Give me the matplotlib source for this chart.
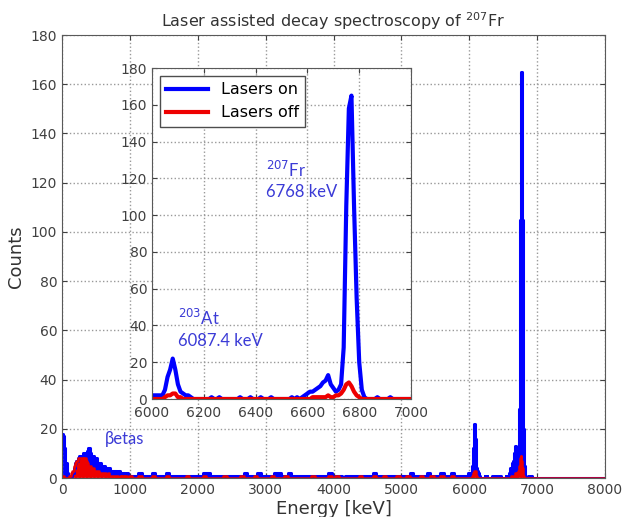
import numpy as np
import matplotlib.pyplot as plt

# energy grid (keV): finer bins where the peaks are
energy_low = np.arange(0, 1000, 20)
energy_mid = np.arange(1000, 5900, 50)
energy_high = np.arange(5900, 7000, 10)
energy_tail = np.arange(7000, 8001, 100)

on_low = [18, 17, 12, 6, 2, 0, 0, 1, 2, 4, 6, 7, 8, 9, 9, 9, 10, 9, 10, 11,
          12, 10, 9, 9, 8, 8, 6, 6, 6, 5, 5, 5, 4, 4, 4, 4, 3, 3, 3, 3,
          3, 2, 3, 2, 2, 2, 2, 1, 2, 1]
off_low = [1, 1, 0, 0, 0, 0, 1, 2, 3, 5, 6, 7, 8, 8, 8, 8, 7, 8, 7, 6,
           5, 5, 4, 4, 3, 3, 3, 3, 2, 2, 2, 2, 2, 1, 2, 1, 1, 1, 1, 1,
           1, 1, 0, 1, 0, 1, 0, 1, 0, 0]

on_mid = [1, 1, 1, 2, 1, 1, 1, 2, 1, 1,
          1, 2, 1, 1, 1, 1, 1, 1, 1, 1,
          1, 1, 2, 2, 1, 1, 1, 1, 1, 1,
          1, 1, 1, 1, 2, 1, 1, 1, 2, 1,
          1, 1, 1, 2, 2, 1, 1, 2, 1, 1,
          1, 1, 1, 1, 1, 1, 1, 1, 1, 2,
          1, 1, 1, 0, 1, 1, 1, 1, 1, 1,
          1, 1, 2, 1, 1, 1, 1, 1, 1, 1,
          1, 1, 1, 2, 1, 1, 1, 1, 2, 1,
          1, 1, 2, 1, 1, 2, 1, 1]
off_mid = [1, 0, 0, 1, 0, 0, 0, 1, 0, 0,
           0, 1, 0, 0, 0, 0, 0, 1, 0, 0,
           0, 0, 1, 0, 0, 0, 0, 0, 1, 0,
           0, 0, 0, 1, 0, 0, 0, 1, 0, 0,
           0, 0, 1, 0, 0, 0, 1, 0, 0, 0,
           0, 0, 0, 0, 1, 0, 0, 0, 0, 1,
           0, 1, 0, 0, 0, 0, 0, 0, 1, 0,
           0, 0, 1, 0, 0, 1, 0, 0, 0, 1,
           0, 0, 1, 0, 0, 0, 1, 0, 0, 1,
           0, 0, 1, 0, 0, 1, 0, 0]

on_high = [1, 1, 0, 1, 1, 0, 1, 1, 2, 2,
           2, 2, 2, 2, 2, 5, 12, 16, 22, 16,
           8, 4, 3, 2, 2, 1, 0, 0, 0, 0,
           0, 0, 0, 1, 0, 0, 1, 0, 0, 0,
           0, 0, 0, 0, 1, 0, 0, 0, 1, 0,
           0, 0, 1, 0, 0, 0, 1, 0, 0, 0,
           0, 0, 0, 0, 1, 0, 1, 0, 1, 2,
           3, 4, 4, 5, 6, 7, 9, 10, 13, 8,
           6, 4, 5, 8, 28, 105, 158, 165, 105, 55,
           20, 5, 1, 0, 0, 0, 0, 1, 0, 0,
           0, 0, 1, 0, 0, 0, 0, 0, 0, 0]
off_high = [0, 0, 0, 0, 0, 0, 0, 0, 0, 0,
            0, 0, 0, 0, 0, 1, 2, 2, 3, 3,
            1, 1, 0, 0, 0, 0, 0, 0, 0, 0,
            0, 0, 0, 0, 0, 0, 0, 0, 0, 0,
            0, 0, 0, 0, 0, 0, 0, 0, 0, 0,
            0, 0, 0, 0, 0, 0, 0, 0, 0, 0,
            0, 0, 0, 0, 0, 0, 0, 0, 0, 0,
            0, 0, 1, 1, 1, 1, 1, 1, 2, 1,
            1, 2, 2, 3, 5, 8, 9, 7, 4, 2,
            1, 0, 0, 0, 0, 0, 0, 0, 0, 0,
            0, 0, 0, 0, 0, 0, 0, 0, 0, 0]

on_tail = [0] * 11
off_tail = [0] * 11

energy = np.concatenate([energy_low, energy_mid, energy_high, energy_tail])
counts_on = np.concatenate([on_low, on_mid, on_high, on_tail])
counts_off = np.concatenate([off_low, off_mid, off_high, off_tail])

blue = '#0000ff'
red = '#ee0000'
label_color = '#3b3bd6'

fig = plt.figure(figsize=(6.24, 5.17), dpi=100)
ax = fig.add_axes([0.0994, 0.0754, 0.8702, 0.8569])

ax.fill_between(energy, counts_on, color=blue, lw=0, step='mid')
ax.plot(energy, counts_on, color=blue, lw=2.2, drawstyle='steps-mid')
ax.fill_between(energy, counts_off, color=red, lw=0, step='mid')
ax.plot(energy, counts_off, color=red, lw=1.8, drawstyle='steps-mid')
ax.set_xlim(0, 8000)
ax.set_ylim(0, 180)
ax.set_xticks(np.arange(0, 8001, 1000))
ax.set_yticks(np.arange(0, 181, 20))
ax.grid(True, linestyle=':', color='0.6', lw=1)
ax.tick_params(direction='in', top=True, right=True, labelsize=10, colors='0.25')
ax.set_xlabel('Energy [keV]', fontsize=13, color='0.2', labelpad=2)
ax.set_ylabel('Counts', fontsize=13, color='0.2', labelpad=4)
ax.set_title('Laser assisted decay spectroscopy of $^{207}$Fr', fontsize=11.5, color='0.2', pad=6)
for s in ax.spines.values():
    s.set_color('0.35')
ax.text(630, 14, 'βetas', color=label_color, fontsize=12, family='Lato')

# inset
axin = fig.add_axes([0.2436, 0.2282, 0.4151, 0.6402])
axin.plot(energy, counts_on, color=blue, lw=3, label='Lasers on')
axin.plot(energy, counts_off, color=red, lw=3, label='Lasers off')
axin.set_xlim(6000, 7000)
axin.set_ylim(0, 180)
axin.set_xticks(np.arange(6000, 7001, 200))
axin.set_yticks(np.arange(0, 181, 20))
axin.grid(True, linestyle=':', color='0.6', lw=1)
axin.tick_params(direction='in', top=True, right=True, labelsize=10, colors='0.25')
axin.tick_params(axis='x', pad=5)
for s in axin.spines.values():
    s.set_color('0.35')
axin.legend(loc='upper left', fontsize=11.5, fancybox=False, framealpha=1,
            edgecolor='0.3', handlelength=2.6, borderaxespad=0.5)
axin.text(6440, 121, '$^{207}$Fr', color=label_color, fontsize=12, family='Lato')
axin.text(6440, 110, '6768 keV', color=label_color, fontsize=12, family='Lato')
axin.text(6100, 40, '$^{203}$At', color=label_color, fontsize=12, family='Lato')
axin.text(6100, 29, '6087.4 keV', color=label_color, fontsize=12, family='Lato')

fig.savefig('out.png', dpi=100)
